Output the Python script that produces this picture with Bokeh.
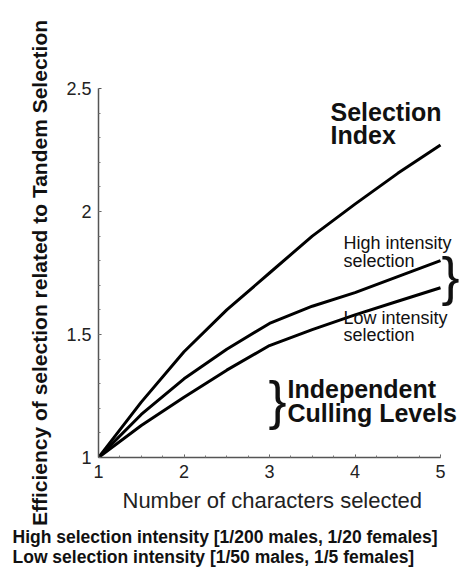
import numpy as np
from bokeh.plotting import figure
from bokeh.models import Label, Range1d, FixedTicker, Title
from bokeh.embed import file_html
from bokeh.resources import INLINE

# ---- data ----
n_chars = [1, 1.5, 2, 2.5, 3, 3.5, 4, 4.5, 5]
selection_index = [1.0, 1.225, 1.43, 1.60, 1.75, 1.90, 2.03, 2.155, 2.27]
high_intensity = [1.0, 1.175, 1.32, 1.44, 1.545, 1.615, 1.67, 1.735, 1.80]
low_intensity = [1.0, 1.13, 1.245, 1.355, 1.455, 1.52, 1.58, 1.635, 1.69]
x_ticks = [1, 2, 3, 4, 5]
y_ticks = [1, 1.5, 2, 2.5]
y_tick_labels = {1: "1", 1.5: "1.5", 2: "2", 2.5: "2.5"}
notes = ["High selection intensity [1/200 males, 1/20 females]",
         "Low selection intensity [1/50 males, 1/5 females]"]

FONT = "Liberation Sans"
W, H = 460, 576
L, R, T, B = 98, 0, 88, 119
XPX = 85.5  # pixels per x unit (axis 1..5 spans 98..440)
x_end = x_ticks[0] + (W - L - R) / XPX

p = figure(width=W, height=H, output_backend="svg", toolbar_location=None,
           x_range=Range1d(x_ticks[0], x_end), y_range=Range1d(y_ticks[0], y_ticks[-1]),
           min_border_left=L, min_border_right=R, min_border_top=T, min_border_bottom=B)
p.outline_line_color = None
p.grid.grid_line_color = None

fh = H - T - B
def dx(px):
    return x_ticks[0] + (px - L) / XPX
def dy(py):
    return y_ticks[0] + (H - B - py) / fh * (y_ticks[-1] - y_ticks[0])

for ax in (p.xaxis[0], p.yaxis[0]):
    ax.axis_line_color = "#555555"
    ax.axis_line_width = 1.5
    ax.major_tick_line_color = "#555555"
    ax.major_tick_in = 3
    ax.major_tick_out = 0
    ax.minor_tick_line_color = "#777777"
    ax.minor_tick_in = 2
    ax.minor_tick_out = 0
    ax.major_label_text_font = FONT
    ax.major_label_text_font_size = "18px"
    ax.major_label_text_color = "#222222"

p.xaxis.bounds = (x_ticks[0], x_ticks[-1])
p.yaxis.bounds = (y_ticks[0], y_ticks[-1])
p.xaxis.ticker = FixedTicker(ticks=x_ticks, minor_ticks=list(np.arange(1, 5.01, 0.25)))
p.yaxis.ticker = FixedTicker(ticks=y_ticks, minor_ticks=list(np.arange(1, 2.51, 0.1)))
p.yaxis.major_label_overrides = y_tick_labels
p.xaxis.major_label_standoff = 7
p.yaxis.major_label_standoff = 7

p.yaxis.axis_label = "Efficiency of selection related to Tandem Selection"
p.yaxis.axis_label_text_font = FONT
p.yaxis.axis_label_text_font_size = "21px"
p.yaxis.axis_label_text_font_style = "bold"
p.yaxis.axis_label_text_color = "#111111"
p.yaxis.axis_label_standoff = 12

# x-axis title and footnotes as titles below the plot
p.add_layout(Title(text="Number of characters selected", align="left", offset=122 - L,
                   standoff=10, text_font=FONT, text_font_size="22px",
                   text_font_style="normal", text_color="#222222"), "below")
p.add_layout(Title(text="\n".join(notes), align="left", offset=12 - L, standoff=15,
                   text_font=FONT, text_font_size="17.5px", text_font_style="bold",
                   text_color="#111111"), "below")

for ys in (selection_index, high_intensity, low_intensity):
    p.line(n_chars, ys, line_color="black", line_width=3)

def lab(px, py, text, size, bold=False, **kw):
    p.add_layout(Label(x=dx(px), y=dy(py), text=text, text_font=FONT, text_font_size=size,
                       text_font_style="bold" if bold else "normal",
                       text_color="#111111", text_baseline="middle", **kw))

lab(330, 111, "Selection", "25px", True)
lab(330, 134, "Index", "25px", True)
lab(343, 242, "High intensity", "18px")
lab(343, 260, "selection", "18px")
lab(343, 317, "Low intensity", "18px")
lab(343, 334, "selection", "18px")
lab(450, 275, "}", "54px", text_align="center")
lab(277, 399, "}", "54px", text_align="center")
lab(287, 388, "Independent", "25px", True)
lab(287, 412, "Culling Levels", "25px", True)

open("out.html", "w").write(file_html(p, INLINE))
